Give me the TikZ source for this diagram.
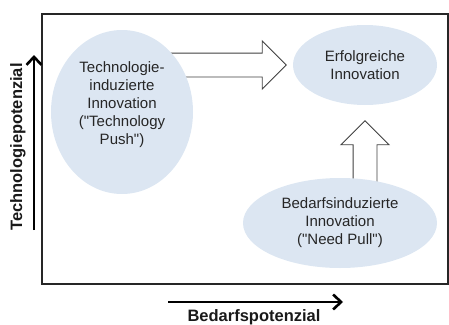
\documentclass[tikz,border=0pt]{standalone}
\usepackage{fontspec}
\setmainfont{Liberation Sans}
\usepackage{tikz}
\usetikzlibrary{arrows.meta,shapes,shapes.arrows,calc}
\usetikzlibrary{positioning}
\usetikzlibrary{backgrounds}
\definecolor{blasblau}{RGB}{220,230,242}
\tikzstyle{blase}=[ellipse,fill=blasblau,text=black!85,align=center,inner sep=0,
                   font=\fontsize{15}{18}\selectfont]
\tikzstyle{blockpfeil}=[single arrow,draw=black!75,fill=white,line width=0.9pt,
                   inner xsep=0,inner ysep=11.5pt,single arrow head extend=12pt]
\tikzstyle{achse}=[line width=2.6pt,-{Straight Barb[length=8pt,width=15pt]}]
\tikzstyle{achstext}=[font=\fontsize{16.5}{18}\selectfont\bfseries,text=black!90]

\begin{document}
\begin{tikzpicture}[x=1pt,y=-1pt]
\useasboundingbox (0,0) rectangle (449,324);
\coordinate (R1) at (42,14);
\coordinate (R2) at (448,284);
\coordinate (Y0) at (34,230);
\coordinate (Y1) at (34,55);
\coordinate (X0) at (168,302);
\coordinate (X1) at (343,302);
\draw[black!85,line width=1.2pt](R1) rectangle (R2);
\node[blase,minimum width=142,minimum height=164] (push) at (122,112)
  {Technologie-\\induzierte\\Innovation\\(\textquotedbl Technology\\Push\textquotedbl)\\\mbox{}};
\node[blase,minimum width=144,minimum height=80] (erfolg) at (365,65)
  {Erfolgreiche\\Innovation};
\node[blase,minimum width=194,minimum height=90] (pull) at (340,223)
  {Bedarfsinduzierte\\Innovation\\(\textquotedbl Need Pull\textquotedbl)};
\begin{scope}[on background layer]
\node[blockpfeil,minimum height=147,anchor=tip] (pushpfeil) at ([xshift=-6pt]erfolg.west) {};
\node[blockpfeil,minimum height=70,rotate=90,anchor=tip] (pullpfeil) at ([yshift=-15pt]erfolg.south) {};
\end{scope}
\draw[achse](Y0)--(Y1);
\draw[achse](X0)--(X1);
\node[achstext,rotate=90] (ylab) at (18,147) {Technologiepotenzial};
\node[achstext] (xlab) at (254,317) {Bedarfspotenzial};
\end{tikzpicture}
\end{document}
